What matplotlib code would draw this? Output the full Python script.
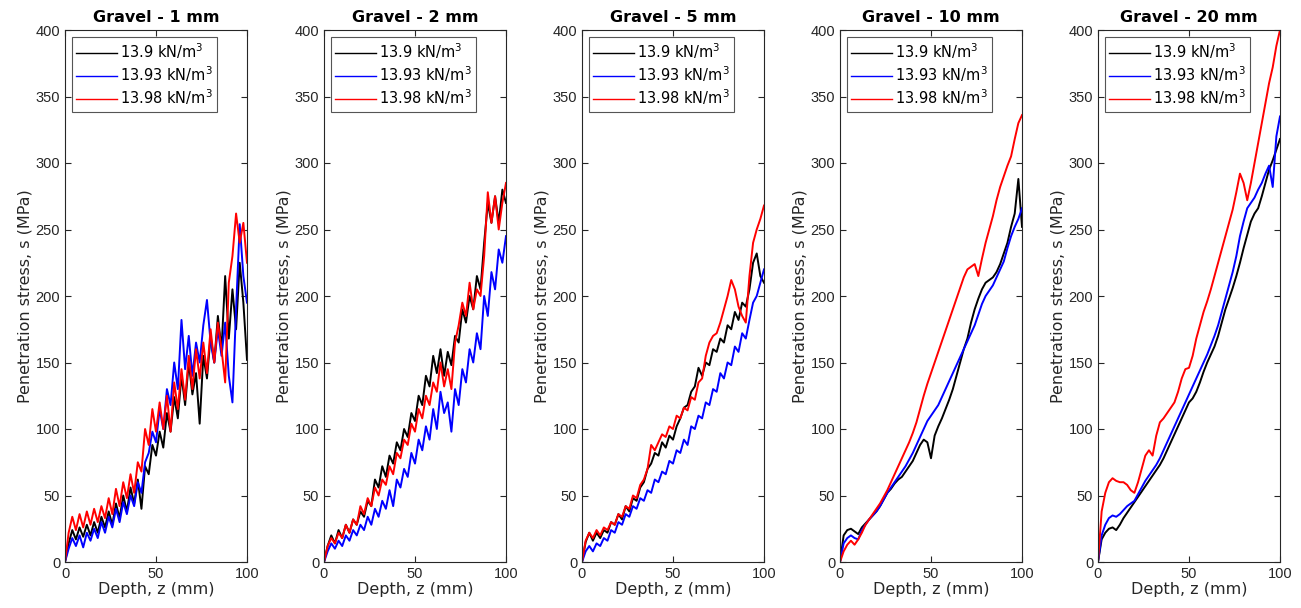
import numpy as np
from matplotlib import pyplot as plt

plt.rcParams['font.family'] = ['Liberation Sans', 'DejaVu Sans']

# profundidad cada 2 mm
z = np.arange(0, 101, 2)

titulos = ["Gravel - 1 mm", "Gravel - 2 mm", "Gravel - 5 mm", "Gravel - 10 mm", "Gravel - 20 mm"]
etiquetas = ["13.9 kN/m$^3$", "13.93 kN/m$^3$", "13.98 kN/m$^3$"]

# Gravel 1 mm
g1_k = [0, 14, 24, 17, 26, 19, 28, 20, 30, 22, 34, 26, 38, 28, 44, 33, 50, 38, 56, 44,
        62, 40, 72, 66, 88, 80, 98, 86, 112, 98, 124, 108, 140, 118, 150, 126, 142, 104, 155, 138,
        170, 150, 185, 160, 215, 168, 205, 175, 225, 195, 152]
g1_b = [0, 10, 18, 12, 20, 11, 22, 16, 25, 18, 30, 22, 34, 26, 40, 30, 45, 36, 50, 42,
        60, 52, 75, 82, 98, 90, 115, 100, 130, 118, 150, 130, 182, 145, 170, 140, 165, 150, 178, 197,
        165, 150, 175, 155, 180, 140, 120, 190, 254, 215, 195]
g1_r = [0, 22, 34, 24, 36, 26, 38, 28, 40, 30, 42, 33, 48, 36, 55, 42, 60, 48, 66, 52,
        75, 68, 100, 88, 115, 98, 120, 100, 125, 98, 135, 115, 145, 122, 155, 130, 160, 138, 165, 142,
        175, 150, 180, 160, 135, 210, 230, 262, 240, 255, 225]

# Gravel 2 mm
g2_k = [0, 12, 20, 14, 24, 18, 28, 22, 32, 28, 38, 34, 46, 42, 62, 56, 72, 64, 80, 74,
        90, 84, 100, 94, 112, 106, 125, 118, 140, 132, 155, 142, 160, 140, 158, 148, 170, 165, 190, 180,
        200, 190, 215, 205, 240, 270, 255, 275, 255, 280, 270]
g2_b = [0, 8, 14, 10, 16, 12, 20, 16, 24, 20, 28, 24, 34, 28, 40, 34, 46, 40, 54, 42,
        62, 56, 70, 64, 82, 74, 92, 84, 102, 92, 115, 100, 128, 112, 120, 98, 130, 118, 145, 135,
        160, 150, 172, 160, 200, 185, 218, 205, 235, 225, 245]
g2_r = [0, 12, 18, 14, 22, 18, 28, 22, 32, 28, 42, 36, 48, 42, 56, 50, 62, 58, 72, 66,
        82, 78, 92, 88, 104, 98, 115, 108, 125, 118, 135, 128, 150, 132, 145, 130, 165, 178, 195, 185,
        210, 190, 205, 200, 230, 278, 255, 275, 250, 270, 285]

# Gravel 5 mm
g5_k = [0, 15, 22, 16, 22, 18, 24, 22, 30, 28, 36, 32, 42, 38, 48, 46, 56, 60, 70, 74,
        82, 80, 90, 86, 95, 92, 102, 108, 116, 118, 128, 132, 146, 140, 150, 148, 160, 158, 168, 165,
        178, 175, 188, 182, 195, 192, 205, 225, 232, 215, 210]
g5_b = [0, 8, 12, 8, 14, 12, 18, 16, 24, 22, 30, 28, 36, 34, 42, 40, 48, 46, 54, 52,
        62, 60, 68, 66, 76, 74, 84, 82, 92, 88, 102, 100, 110, 108, 120, 118, 130, 128, 142, 138,
        150, 148, 162, 158, 172, 168, 182, 195, 200, 210, 220]
g5_r = [0, 16, 22, 18, 24, 20, 26, 24, 30, 28, 36, 34, 42, 40, 50, 48, 58, 62, 70, 88,
        84, 90, 96, 94, 102, 100, 110, 108, 116, 114, 124, 122, 135, 138, 155, 165, 170, 172, 180, 190,
        200, 212, 205, 192, 185, 180, 215, 240, 250, 258, 268]

# Gravel 10 mm
g10_k = [0, 20, 24, 25, 23, 21, 26, 29, 32, 35, 38, 42, 47, 52, 55, 59, 62, 64, 68, 72,
         76, 82, 88, 92, 90, 78, 95, 102, 108, 115, 122, 130, 140, 150, 160, 168, 180, 190, 198, 205,
         210, 212, 214, 218, 224, 232, 240, 252, 262, 288, 252]
g10_b = [0, 14, 18, 20, 18, 17, 24, 28, 32, 35, 38, 42, 47, 52, 56, 60, 64, 68, 72, 77,
         82, 88, 94, 100, 106, 110, 114, 118, 124, 130, 136, 142, 148, 154, 160, 166, 172, 178, 186, 194,
         200, 204, 208, 214, 220, 226, 236, 245, 252, 258, 266]
g10_r = [0, 8, 13, 16, 13, 17, 22, 28, 32, 36, 40, 44, 49, 54, 60, 66, 72, 78, 84, 90,
         97, 105, 115, 125, 134, 142, 150, 158, 166, 174, 182, 190, 198, 206, 214, 220, 222, 224, 215, 228,
         240, 250, 260, 272, 282, 290, 298, 305, 318, 330, 336]

# Gravel 20 mm
g20_k = [0, 17, 22, 25, 26, 24, 28, 33, 37, 41, 45, 49, 53, 57, 61, 65, 69, 73, 78, 84,
         90, 96, 102, 108, 114, 120, 123, 128, 135, 143, 150, 156, 162, 170, 180, 190, 198, 206, 215, 225,
         236, 246, 256, 262, 266, 275, 285, 295, 302, 310, 318]
g20_b = [0, 20, 28, 33, 35, 34, 36, 39, 42, 44, 46, 51, 56, 61, 65, 69, 73, 78, 84, 90,
         96, 102, 108, 114, 120, 126, 132, 138, 144, 150, 156, 163, 170, 178, 188, 198, 208, 218, 230, 245,
         256, 266, 270, 274, 280, 285, 292, 298, 282, 320, 335]
g20_r = [0, 38, 52, 60, 63, 61, 60, 60, 58, 54, 52, 60, 70, 80, 84, 80, 95, 105, 108, 112,
         116, 120, 128, 138, 145, 146, 155, 168, 178, 188, 196, 205, 215, 225, 235, 245, 255, 265, 278, 292,
         285, 272, 285, 300, 315, 330, 345, 360, 372, 388, 400]

datos = [
    [g1_k, g1_b, g1_r],
    [g2_k, g2_b, g2_r],
    [g5_k, g5_b, g5_r],
    [g10_k, g10_b, g10_r],
    [g20_k, g20_b, g20_r],
]
colores = ["k", "b", "r"]

fig = plt.figure(figsize=(13.01, 6.08), dpi=100)
izq = [65, 324, 582, 840, 1098]
gris = "#262626"

for i in range(5):
    ax = fig.add_axes([izq[i] / 1301, 46 / 608, 182 / 1301, 532 / 608])
    for serie, c, lab in zip(datos[i], colores, etiquetas):
        ax.plot(z, serie, color=c, lw=1.4, label=lab)
    ax.set_xlim(0, 100)
    ax.set_ylim(0, 400)
    ax.set_xticks([0, 50, 100])
    ax.set_yticks(np.arange(0, 401, 50))
    ax.tick_params(direction="in", top=True, right=True, labelsize=10.5,
                   colors=gris, length=4, width=0.8)
    for s in ax.spines.values():
        s.set_color(gris)
        s.set_linewidth(0.8)
    ax.set_title(titulos[i], fontsize=11.5, fontweight="bold", family="DejaVu Sans", pad=6)
    ax.set_xlabel("Depth, z (mm)", fontsize=11.5, family="DejaVu Sans", color=gris, labelpad=1)
    ax.set_ylabel("Penetration stress, s (MPa)", fontsize=11.5, family="DejaVu Sans",
                  color=gris, labelpad=2)
    leg = ax.legend(loc="upper left", prop={"family": "DejaVu Sans", "size": 10.5},
                    handlelength=2.8, borderaxespad=0.45, fancybox=False, framealpha=1,
                    borderpad=0.3, labelspacing=0.25, handletextpad=0.2)
    leg.get_frame().set_edgecolor("#555555")
    leg.get_frame().set_linewidth(0.8)
    for l in leg.get_lines():
        l.set_linewidth(1.0)

plt.savefig("out.png", dpi=100)
